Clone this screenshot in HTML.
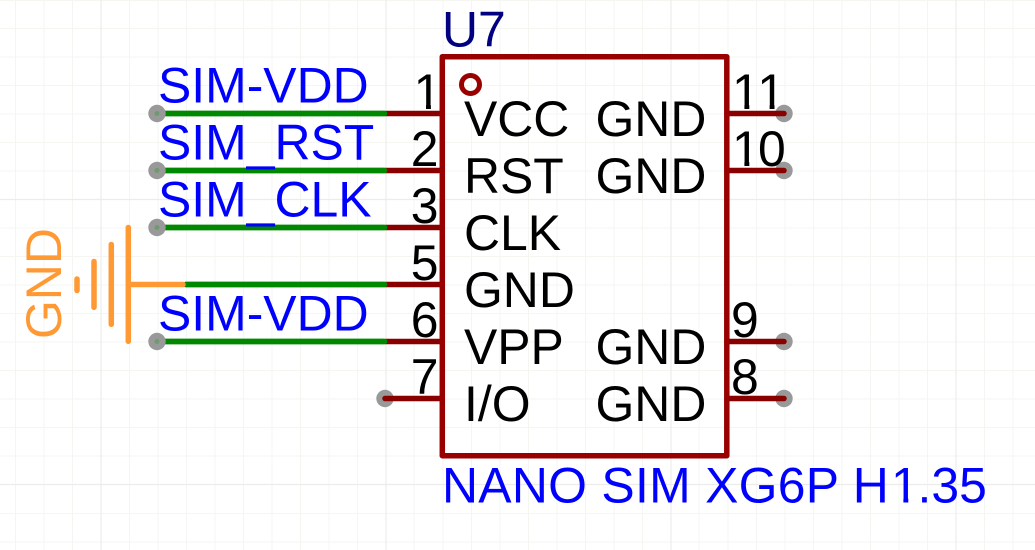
<!DOCTYPE html>
<html><head><meta charset="utf-8"><style>html,body{margin:0;padding:0;background:#fff}svg{display:block}text{font-family:"Liberation Sans",sans-serif;font-size:49.9px}</style></head>
<body>
<svg width="1035" height="550" viewBox="0 0 1035 550" xmlns="http://www.w3.org/2000/svg">
<defs><clipPath id="one"><rect x="-2" y="-50" width="35" height="46"/><rect x="12.4" y="-5" width="4.9" height="5.5"/></clipPath></defs>
<rect width="1035" height="550" fill="#fff"/>
<path stroke="#f5f5f2" stroke-width="1" fill="none" d="M15.5 0V550M44 0V550M72.5 0V550M129.5 0V550M158 0V550M186.5 0V550M215 0V550M243.5 0V550M272 0V550M300.5 0V550M329 0V550M357.5 0V550M414 0V550M443 0V550M471.5 0V550M500 0V550M528.5 0V550M557 0V550M585.5 0V550M614 0V550M642.5 0V550M699 0V550M728 0V550M756.5 0V550M785 0V550M813.5 0V550M842 0V550M870.5 0V550M899 0V550M927.5 0V550M984.5 0V550M1013 0V550M0 0.5H1035M0 28.5H1035M0 57H1035M0 85.5H1035M0 114H1035M0 142.5H1035M0 171H1035M0 228H1035M0 256.5H1035M0 285H1035M0 313.5H1035M0 342H1035M0 370.5H1035M0 399H1035M0 427.5H1035M0 456H1035M0 513.5H1035M0 542H1035"/>
<path stroke="#ececea" stroke-width="1.2" fill="none" d="M101 0V550M386 0V550M671 0V550M956 0V550M0 199.5H1035M0 484.5H1035"/>

<g fill="#999">
<circle cx="385" cy="398.500" r="8.700"/><circle cx="784" cy="113.500" r="8.700"/><circle cx="784" cy="170.500" r="8.700"/><circle cx="784" cy="341.500" r="8.700"/><circle cx="784" cy="398.500" r="8.700"/>
</g>

<g stroke="#880000" stroke-width="5.500" stroke-linecap="round" fill="none">
<path d="M386 113.500H442M386 170.500H442M386 227.500H442M386 284.500H442M386 341.500H442M385 398.500H442"/>
<path d="M727 113.500H784M727 170.500H784M727 341.500H784M727 398.500H784"/>
</g>
<g stroke="#008800" stroke-width="5.800" stroke-linecap="round" fill="none">
<path d="M161 113.500H384.500M161 170.500H384.500M161 227.500H384.500M186 284.500H384.500M161 341.500H384.500"/>
</g>
<g fill="#999"><circle cx="157" cy="113.500" r="8.700"/><circle cx="157" cy="170.500" r="8.700"/><circle cx="157" cy="227.500" r="8.700"/><circle cx="157" cy="341.500" r="8.700"/></g>
<g fill="#6f9a6f"><circle cx="157" cy="113.500" r="2.500"/><circle cx="157" cy="170.500" r="2.500"/><circle cx="157" cy="227.500" r="2.500"/><circle cx="157" cy="341.500" r="2.500"/></g>
<g stroke="#ff9933" stroke-width="5.500" stroke-linecap="round" fill="none">
<path d="M128.300 284.500H183M128.300 227.500V341.300M111.300 244.500V324.300M94 261.500V307.300M77 279V290.500"/>
</g>
<rect x="442.300" y="56.700" width="284.500" height="399" fill="none" stroke="#990000" stroke-width="5.500" stroke-linejoin="round"/>
<circle cx="470.500" cy="84.500" r="9" fill="none" stroke="#990000" stroke-width="5"/>

<g fill="#0000ff">
<text x="158" y="102.500">SIM-VDD</text>
<text x="158" y="159.500">SIM_RST</text>
<text x="158" y="216.500">SIM_CLK</text>
<text x="158" y="330.500">SIM-VDD</text>
<text x="442" y="502.500" textLength="397" lengthAdjust="spacing">NANO SIM XG6P</text>
<text x="852.700" y="502.500">H</text>
<g transform="translate(891 502.500)" clip-path="url(#one)"><text x="0" y="0">1</text></g>
<text x="917.500" y="502.500">.35</text>
</g>
<text x="442" y="46.500" fill="#000080">U7</text>
<text transform="translate(61 339) rotate(-90)" fill="#ff9933">GND</text>
<g fill="#000">
<g transform="translate(413.600 109)" clip-path="url(#one)"><text x="0" y="0">1</text></g>
<g text-anchor="end">
<text x="438.500" y="166">2</text><text x="438.500" y="223">3</text><text x="438.500" y="280">5</text><text x="438.500" y="337">6</text><text x="438.500" y="394">7</text>
</g>
<g transform="translate(732 109)" clip-path="url(#one)"><text x="0" y="0">1</text></g>
<g transform="translate(757.200 109)" clip-path="url(#one)"><text x="0" y="0">1</text></g>
<g transform="translate(732 166)" clip-path="url(#one)"><text x="0" y="0">1</text></g>
<text x="758" y="166">0</text>
<text x="731" y="337">9</text><text x="731" y="394">8</text>
<text x="464" y="136">VCC</text><text x="464" y="193">RST</text><text x="464" y="250">CLK</text><text x="464" y="307">GND</text><text x="464" y="364">VPP</text><text x="464" y="421">I/O</text>
<text x="595.500" y="136">GND</text><text x="595.500" y="193">GND</text><text x="595.500" y="364">GND</text><text x="595.500" y="421">GND</text>
</g>
</svg>
</body></html>
